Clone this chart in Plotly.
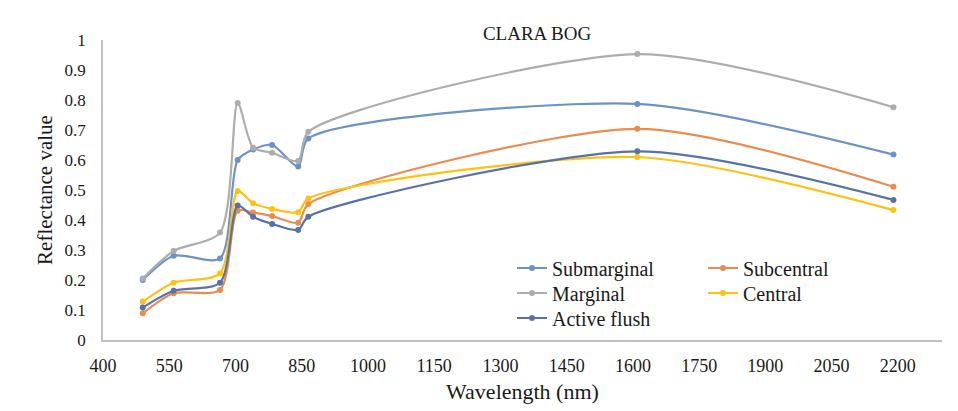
import plotly.graph_objects as go

# Sentinel-2 band centres (nm)
wavelength = [490, 560, 665, 705, 740, 783, 842, 865, 1610, 2190]

submarginal = [0.200, 0.281, 0.272, 0.600, 0.635, 0.650, 0.578, 0.672, 0.787, 0.618]
subcentral = [0.089, 0.156, 0.167, 0.431, 0.425, 0.413, 0.391, 0.453, 0.704, 0.511]
marginal = [0.205, 0.297, 0.358, 0.790, 0.641, 0.624, 0.597, 0.694, 0.953, 0.776]
central = [0.128, 0.191, 0.222, 0.497, 0.456, 0.437, 0.426, 0.472, 0.610, 0.433]
active_flush = [0.108, 0.164, 0.191, 0.448, 0.411, 0.387, 0.367, 0.411, 0.629, 0.467]

series_names = ["Submarginal", "Subcentral", "Marginal", "Central", "Active flush"]
series_values = [submarginal, subcentral, marginal, central, active_flush]
colors = ["#6C93C7", "#EB8C4F", "#ADADAD", "#FFC20E", "#5673A8"]

FONT = "Liberation Serif, Times New Roman, serif"
TEXT = "#1a1a1a"

# the page body has an 8px margin, so work in figure coords = screen - 8
OFF = 8
W, H = 958 - OFF, 411 - OFF
L, R, T, B = 103 - OFF, 942 - OFF, 40 - OFF, 340 - OFF

# legend slot for each series: (text start x, row centre y) in screen pixels
legend_slots = [(552, 268), (743, 268), (552, 293), (743, 293), (552, 318)]

fig = go.Figure()

legend_layouts = {}
for i, (name, vals, color) in enumerate(zip(series_names, series_values, colors)):
    lid = "legend" if i == 0 else f"legend{i + 1}"
    fig.add_trace(go.Scatter(
        x=wavelength,
        y=vals,
        name=name,
        legend=lid,
        mode="lines+markers",
        line=dict(color=color, width=2.2, shape="spline", smoothing=0.75),
        marker=dict(color=color, size=6),
    ))
    tx, ty = legend_slots[i]
    tx, ty = tx - OFF, ty - OFF
    legend_layouts[lid] = dict(
        x=(tx - 40 - L) / (R - L), xanchor="left",
        y=(B - ty) / (B - T), yanchor="middle",
        font=dict(size=20, family=FONT, color=TEXT),
        bgcolor="rgba(0,0,0,0)",
        borderwidth=0,
    )

fig.update_layout(
    width=W,
    height=H,
    paper_bgcolor="white",
    plot_bgcolor="white",
    margin=dict(l=L, r=W - R, t=T, b=H - B),
    font=dict(family=FONT, color=TEXT),
    title=dict(
        text="CLARA BOG",
        x=(537 - OFF) / W, xanchor="center",
        y=1 - (33 - OFF) / H, yanchor="middle",
        font=dict(size=19, family=FONT, color=TEXT),
    ),
    showlegend=True,
    **legend_layouts,
)

fig.update_xaxes(
    range=[400, 2300],
    tickmode="array",
    tickvals=list(range(400, 2201, 150)),
    showgrid=False,
    zeroline=False,
    showline=True,
    linecolor="#BFBFBF",
    linewidth=1.5,
    ticks="",
    automargin=False,
    ticklabelstandoff=9,
    tickfont=dict(size=18, family=FONT, color=TEXT),
    title=dict(text="Wavelength (nm)", font=dict(size=22, family=FONT, color=TEXT), standoff=8),
)

fig.update_yaxes(
    range=[0, 1],
    dtick=0.1,
    tickformat="~g",
    showgrid=False,
    zeroline=False,
    showline=True,
    linecolor="#BFBFBF",
    linewidth=1.5,
    ticks="",
    automargin=False,
    ticklabelstandoff=12,
    tickfont=dict(size=17, family=FONT, color=TEXT),
    title=dict(text="Reflectance value", font=dict(size=21, family=FONT, color=TEXT), standoff=6),
)

fig.write_html("out.html")
